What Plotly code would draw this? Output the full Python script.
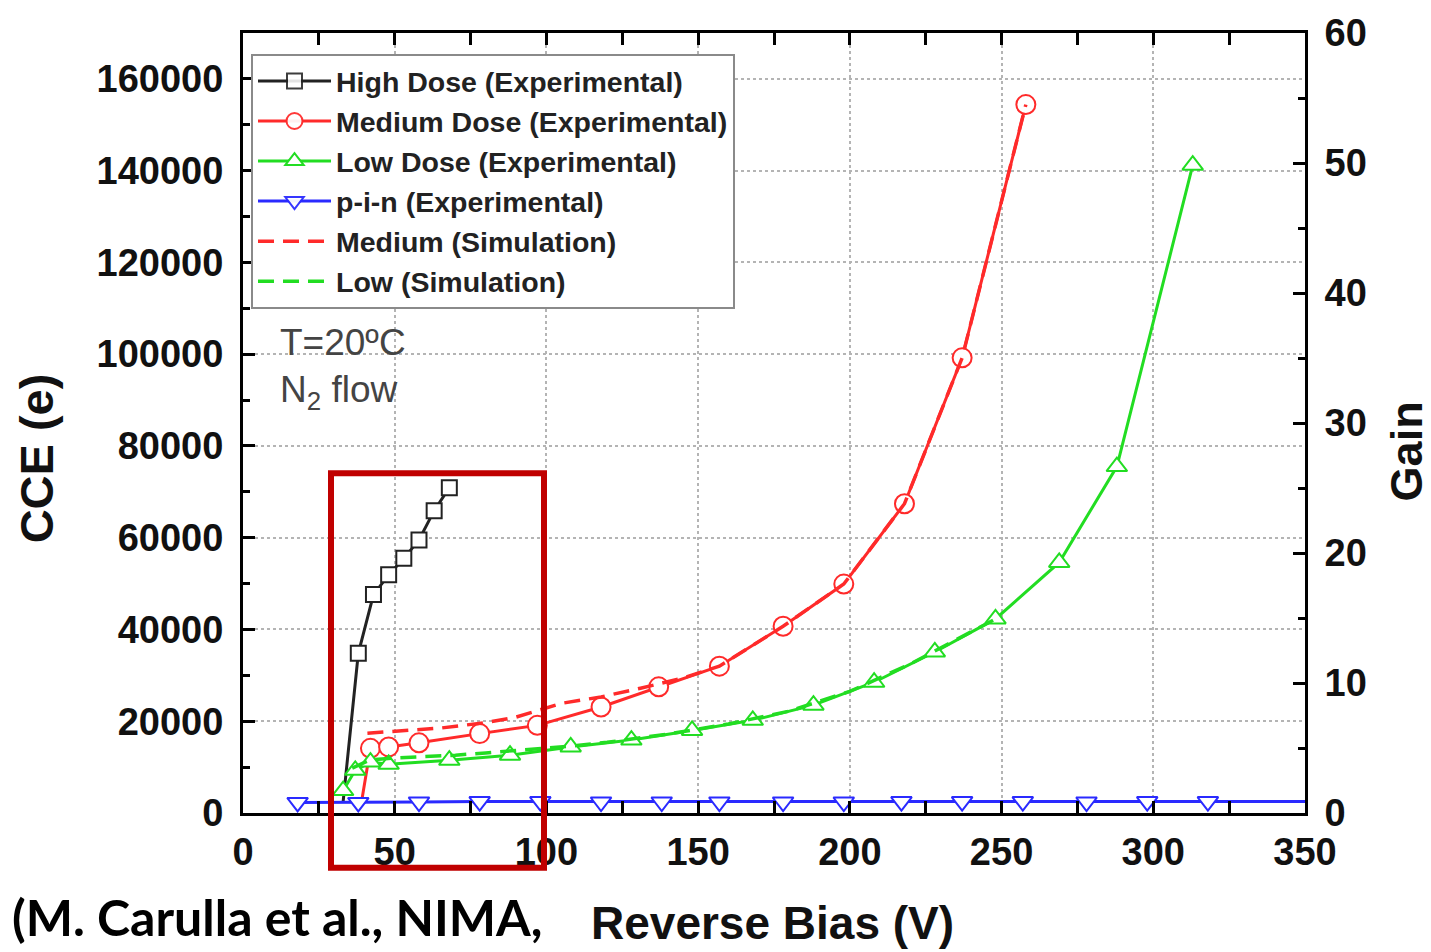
import plotly.graph_objects as go

# ---------------- data ----------------
high_v = [33, 38, 43, 48, 53, 58, 63, 68]
high_cce = [2500, 34800, 47600, 51900, 55500, 59500, 65900, 70900]

med_v = [39, 42, 48, 58, 78, 97, 118, 137, 157, 178, 198, 218, 237, 258]
med_cce = [2200, 14100, 14400, 15300, 17300, 19100, 23100, 27500, 32000, 40700,
           49900, 67400, 99200, 154400]

low_v = [33, 37, 42, 48, 68, 88, 108, 128, 148, 168, 188, 208, 228, 248, 269, 288, 313]
low_cce = [4900, 9300, 11100, 10600, 11500, 12600, 14400, 15900, 18000, 20200,
           23500, 28500, 35100, 42300, 54600, 75500, 141200]

pin_v = [18, 38, 58, 78, 98, 118, 138, 157, 178, 198, 217, 237, 257, 278, 298, 318, 350]
pin_cce = [2300, 2300, 2400, 2500, 2500, 2400, 2400, 2400, 2400, 2400, 2500, 2500,
           2500, 2400, 2500, 2500, 2500]

med_sim_v = [41, 50, 65, 80, 90, 105, 118, 131, 145, 157, 178, 198, 218, 237, 258]
med_sim_cce = [17400, 17800, 18500, 19700, 20900, 23900, 25300, 27200, 29400, 32000,
               40700, 49900, 67400, 99200, 154400]

low_sim_v = [36, 42, 50, 60, 70, 80, 90, 100, 110, 120, 140, 160, 180, 200, 220, 248]
low_sim_cce = [9800, 11600, 12000, 12300, 12600, 13100, 13600, 14100, 14700, 15400,
               17200, 19400, 22200, 26500, 32500, 42300]

x_ticks = [0, 50, 100, 150, 200, 250, 300, 350]
y_ticks = [0, 20000, 40000, 60000, 80000, 100000, 120000, 140000, 160000]
gain_ticks = [0, 10, 20, 30, 40, 50, 60]

# ---------------- styling ----------------
FONT = "Liberation Sans, Arial, sans-serif"
BLACK = "#222222"
RED = "#ff2a2a"
GREEN = "#22dd22"
BLUE = "#2a2aff"
GRID = "#b4b4b4"

W, H = 1431, 952
L, R, T, B = 243, 126, 30, 139
PW, PH = W - L - R, H - T - B


def px(xp):
    return (xp - L) / PW


def py(yp):
    return (H - B - yp) / PH


def first_hidden(n):
    return [0] + [1] * (n - 1)


fig = go.Figure()

fig.add_trace(go.Scatter(
    x=high_v, y=high_cce, mode="lines+markers", name="High Dose (Experimental)",
    line=dict(color=BLACK, width=3),
    marker=dict(symbol="square", size=15, color="white", opacity=first_hidden(len(high_v)),
                line=dict(color=BLACK, width=2))))

fig.add_trace(go.Scatter(
    x=med_v, y=med_cce, mode="lines+markers", name="Medium Dose (Experimental)",
    line=dict(color=RED, width=3),
    marker=dict(symbol="circle", size=19, color="white", opacity=first_hidden(len(med_v)),
                line=dict(color=RED, width=2))))

fig.add_trace(go.Scatter(
    x=low_v, y=low_cce, mode="lines+markers", name="Low Dose (Experimental)",
    line=dict(color=GREEN, width=3),
    marker=dict(symbol="triangle-up", size=18, color="white", line=dict(color=GREEN, width=2))))

pin_opacity = [1] * (len(pin_v) - 1) + [0]
fig.add_trace(go.Scatter(
    x=pin_v, y=pin_cce, mode="lines+markers", name="p-i-n (Experimental)",
    line=dict(color=BLUE, width=3),
    marker=dict(symbol="triangle-down", size=18, color="white", opacity=pin_opacity,
                line=dict(color=BLUE, width=2))))

fig.add_trace(go.Scatter(
    x=med_sim_v, y=med_sim_cce, mode="lines", name="Medium (Simulation)",
    line=dict(color=RED, width=3.5, dash="16px,9px")))

fig.add_trace(go.Scatter(
    x=low_sim_v, y=low_sim_cce, mode="lines", name="Low (Simulation)",
    line=dict(color=GREEN, width=3.5, dash="16px,9px")))

# empty trace so the right-hand Gain axis is drawn
fig.add_trace(go.Scatter(x=[None], y=[None], yaxis="y2", showlegend=False,
                         hoverinfo="skip"))

axis_common = dict(
    showline=True, linecolor="black", linewidth=3,
    ticks="inside", ticklen=12, tickwidth=3, tickcolor="black",
    tickfont=dict(family=FONT, size=38, color="#111111", weight="bold"),
    zeroline=False,
)

fig.update_layout(
    width=W, height=H,
    margin=dict(l=L, r=R, t=T, b=B, pad=0),
    paper_bgcolor="white", plot_bgcolor="white",
    showlegend=True,
    legend=dict(
        x=px(251), y=py(51), xanchor="left", yanchor="top",
        bgcolor="white", bordercolor="#8a8a8a", borderwidth=2,
        font=dict(family=FONT, size=28.5, color="#222222", weight="bold"),
        itemwidth=73, tracegroupgap=0,
    ),
    xaxis=dict(
        range=[0, 350], tickvals=x_ticks, mirror="allticks",
        showgrid=True, gridcolor=GRID, griddash="dot", gridwidth=2,
        minor=dict(ticks="inside", dtick=25, tick0=0, ticklen=7, tickwidth=3,
                   tickcolor="black", showgrid=False),
        ticklabelstandoff=3,
        **axis_common,
    ),
    yaxis=dict(
        range=[0, 170000], tickvals=y_ticks, tickformat="d",
        showgrid=True, gridcolor=GRID, griddash="dot", gridwidth=2,
        minor=dict(ticks="inside", dtick=10000, tick0=0, ticklen=7, tickwidth=3,
                   tickcolor="black", showgrid=False),
        ticklabelstandoff=9,
        **axis_common,
    ),
    yaxis2=dict(
        range=[0, 60], tickvals=gain_ticks, overlaying="y", side="right",
        showgrid=False,
        minor=dict(ticks="inside", dtick=5, tick0=0, ticklen=7, tickwidth=3,
                   tickcolor="black", showgrid=False),
        ticklabelstandoff=9,
        **axis_common,
    ),
)

ann_font = dict(family=FONT, size=47, color="#111111", weight="bold")
fig.add_annotation(text="CCE (e)", x=px(36), y=py(457), xref="paper", yref="paper",
                   textangle=-90, showarrow=False, font=ann_font,
                   xanchor="center", yanchor="middle")
fig.add_annotation(text="Gain", x=px(1406), y=py(450), xref="paper", yref="paper",
                   textangle=-90, showarrow=False,
                   font=dict(family=FONT, size=45, color="#111111", weight="bold"),
                   xanchor="center", yanchor="middle")
fig.add_annotation(text="Reverse Bias (V)", x=px(772), y=py(923), xref="paper", yref="paper",
                   showarrow=False, font=dict(family=FONT, size=46, color="#111111", weight="bold"),
                   xanchor="center", yanchor="middle")
fig.add_annotation(text="(M. Carulla et al., NIMA,", x=px(10), y=py(917),
                   xref="paper", yref="paper", showarrow=False,
                   font=dict(family="Lato, Open Sans, sans-serif", size=50,
                             color="black", weight="bold"),
                   xanchor="left", yanchor="middle")

note_font = dict(family=FONT, size=37, color="#444444")
fig.add_annotation(text="T=20ºC", x=px(278), y=py(341), xref="paper", yref="paper",
                   showarrow=False, font=note_font, xanchor="left", yanchor="middle")
fig.add_annotation(text="N<sub>2</sub> flow", x=px(278), y=py(390), xref="paper",
                   yref="paper", showarrow=False, font=note_font,
                   xanchor="left", yanchor="middle")

# highlight rectangle
fig.add_shape(type="rect", xref="paper", yref="paper",
              x0=px(331), x1=px(544), y0=py(868), y1=py(472),
              line=dict(color="#c00000", width=6), fillcolor="rgba(0,0,0,0)",
              layer="above")

fig.write_html("out.html")
